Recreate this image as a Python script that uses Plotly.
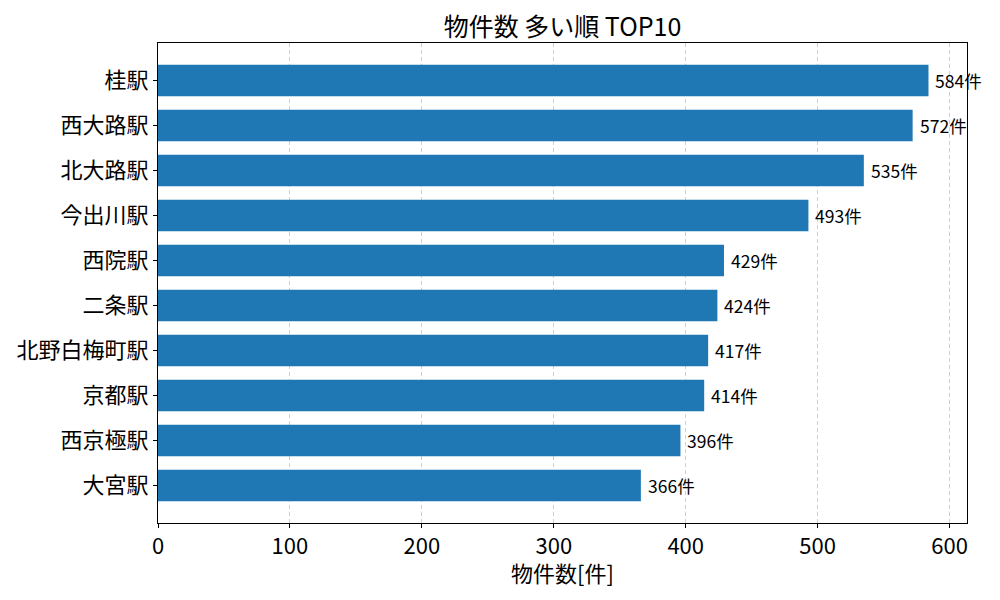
import plotly.graph_objects as go

# 駅ごとの物件数 (多い順)
stations = ["桂駅", "西大路駅", "北大路駅", "今出川駅", "西院駅",
            "二条駅", "北野白梅町駅", "京都駅", "西京極駅", "大宮駅"]
counts = [584, 572, 535, 493, 429, 424, 417, 414, 396, 366]
x_ticks = [0, 100, 200, 300, 400, 500, 600]

FONT = "Noto Sans CJK JP"
BAR_COLOR = "#1f77b4"

fig = go.Figure()

fig.add_trace(go.Bar(
    x=counts,
    y=stations,
    orientation="h",
    width=0.7,
    marker=dict(color=BAR_COLOR, line=dict(width=0)),
    hovertemplate="%{y}: %{x}件<extra></extra>",
))

# 棒の右側に件数ラベル
for s, c in zip(stations, counts):
    fig.add_annotation(
        x=c, y=s, text=f"{c}件",
        xanchor="left", yanchor="middle", xshift=5,
        showarrow=False,
        font=dict(family=FONT, size=17.5, color="black"),
    )

# x軸タイトル (位置合わせのため注釈で描く)
fig.add_annotation(
    x=0.5, y=0, xref="paper", yref="paper",
    text="物件数[件]", showarrow=False,
    xanchor="center", yanchor="middle", yshift=-49,
    font=dict(family=FONT, size=22, color="black"),
)

fig.update_layout(
    width=1000, height=600,
    margin=dict(l=158, r=33, t=43, b=77),
    paper_bgcolor="white",
    plot_bgcolor="white",
    showlegend=False,
    font=dict(family=FONT, color="black"),
    title=dict(
        text="物件数 多い順 TOP10",
        x=0.5, xref="paper", xanchor="center",
        y=1, yref="paper", yanchor="bottom",
        pad=dict(b=7),
        font=dict(family=FONT, size=25, color="black"),
    ),
)

max_x = max(counts) * 1.05
fig.update_xaxes(
    range=[0, max_x],
    tickvals=x_ticks,
    ticks="outside", ticklen=4, tickcolor="black",
    tickfont=dict(family=FONT, size=22),
    showline=True, linecolor="black", linewidth=1, mirror=True,
    showgrid=True, gridcolor="#d0d0d0", griddash="4px,3px", gridwidth=1,
    zeroline=False,
    automargin=False,
)

n = len(stations)
pad = (n - 1 + 0.7) * 0.05
fig.update_yaxes(
    type="category",
    categoryorder="array", categoryarray=stations,
    range=[n - 1 + 0.35 + pad, -0.35 - pad],
    ticks="outside", ticklen=4, tickcolor="black",
    tickfont=dict(family=FONT, size=22),
    showline=True, linecolor="black", linewidth=1, mirror=True,
    showgrid=False, zeroline=False,
    automargin=False,
)

# ページ余白をなくして 1000x600 にぴったり合わせる
fig.write_html(
    "out.html",
    config={"displayModeBar": False},
    post_script="document.body.style.margin='0';",
)
